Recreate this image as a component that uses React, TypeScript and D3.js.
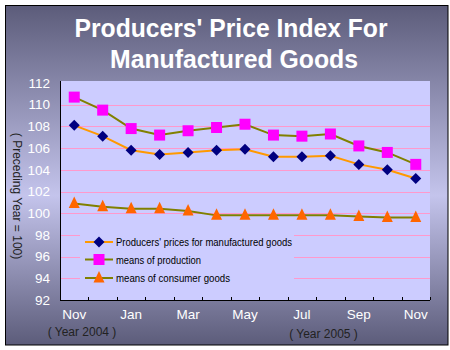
import React from "react";
import * as d3 from "d3";

const categories = ["Nov 2004","Dec 2004","Jan 2005","Feb 2005","Mar 2005","Apr 2005","May 2005","Jun 2005","Jul 2005","Aug 2005","Sep 2005","Oct 2005","Nov 2005"];
const tickLabels = ["Nov","","Jan","","Mar","","May","","Jul","","Sep","","Nov"];
const producersPrices = [108.1,107.1,105.8,105.4,105.6,105.8,105.9,105.2,105.2,105.3,104.5,104.0,103.2];
const meansOfProduction = [110.7,109.5,107.8,107.2,107.6,107.9,108.2,107.2,107.1,107.3,106.2,105.6,104.5];
const consumerGoods = [100.9,100.6,100.4,100.4,100.2,99.8,99.8,99.8,99.8,99.8,99.7,99.6,99.6];
const yTicks = [92,94,96,98,100,102,104,106,108,110,112];
const gridValues = [94,96,98,100,102,104,106,108,110];
const legendLabels = ["Producers' prices for manufactured goods","means of production","means of consumer goods"];

const W = 450, H = 350;
const plot = { left: 60, right: 430, top: 83, bottom: 300 };

export default function App() {
  const x = d3.scalePoint<number>().domain(categories.map((_, i) => i)).range([plot.left, plot.right]).padding(0.5);
  const band = d3.scaleBand<number>().domain(categories.map((_, i) => i)).range([plot.left, plot.right]);
  const y = d3.scaleLinear().domain([92, 112]).range([plot.bottom, plot.top]);
  const line = d3.line<number>().x((_, i) => x(i)!).y((d) => y(d));

  const diamond = "M0,-5.5L5.5,0L0,5.5L-5.5,0Z";
  const square = "M-5.5,-5.5H5.5V5.5H-5.5Z";
  const triangle = "M0,-7L5.5,4.5L-5.5,4.5Z";

  const tickBounds = d3.range(categories.length + 1).map((i) => plot.left + i * band.step());

  const series = [
    { data: producersPrices, lineColor: "#ff9900", markerColor: "#000080", shape: diamond },
    { data: meansOfProduction, lineColor: "#808000", markerColor: "#ff00ff", shape: square },
    { data: consumerGoods, lineColor: "#808000", markerColor: "#ff6600", shape: triangle },
  ];
  const legendY = [242, 259.5, 278];
  const legendText = [176, 85, 114];

  const font = "'Liberation Sans', Arial, sans-serif";

  return (
    <svg width={W} height={H} style={{ position: "absolute", left: 0, top: 0 }} fontFamily={font}>
      <defs>
        <linearGradient id="bg" x1="0" y1="0" x2="0" y2="1">
          <stop offset="0" stopColor="#5c5c7a" />
          <stop offset="0.56" stopColor="#c4c4ec" />
          <stop offset="1" stopColor="#5c5c7a" />
        </linearGradient>
      </defs>
      <rect x={0} y={0} width={W} height={H} fill="#ffffff" />
      <rect x={5.5} y={5.5} width={442.5} height={339.5} fill="url(#bg)" stroke="#000" strokeWidth={1} />
      <text x={231} y={37} textAnchor="middle" fill="#fff" fontSize={25} fontWeight="bold" textLength={313} lengthAdjust="spacingAndGlyphs">Producers' Price Index For</text>
      <text x={234} y={68} textAnchor="middle" fill="#fff" fontSize={25} fontWeight="bold" textLength={248} lengthAdjust="spacingAndGlyphs">Manufactured Goods</text>

      <rect x={plot.left} y={plot.top - 2} width={plot.right - plot.left} height={plot.bottom - plot.top + 2} fill="#ccccff" />
      {gridValues.map((v) => (
        <line key={v} x1={plot.left} x2={plot.right} y1={Math.round(y(v)) + 0.5} y2={Math.round(y(v)) + 0.5} stroke="#ff99cc" strokeWidth={1} />
      ))}
      <rect x={80} y={225} width={214} height={66} fill="#ccccff" />

      {series.map((s, k) => (
        <g key={k}>
          <path d={line(s.data) ?? ""} fill="none" stroke={s.lineColor} strokeWidth={2} />
          {s.data.map((v, i) => (
            <path key={i} d={s.shape} transform={`translate(${x(i)},${y(v)})`} fill={s.markerColor} />
          ))}
        </g>
      ))}

      {series.map((s, k) => (
        <g key={k}>
          <line x1={85} x2={113} y1={legendY[k]} y2={legendY[k]} stroke={s.lineColor} strokeWidth={2} />
          <path d={s.shape} transform={`translate(99,${legendY[k]})`} fill={s.markerColor} />
          <text x={116} y={legendY[k] + 4} fontSize={11} fill="#000" textLength={legendText[k]} lengthAdjust="spacingAndGlyphs">{legendLabels[k]}</text>
        </g>
      ))}

      <line x1={plot.left + 0.5} x2={plot.left + 0.5} y1={plot.top - 2} y2={plot.bottom} stroke="#000" />
      <line x1={plot.left} x2={plot.right} y1={plot.bottom + 0.5} y2={plot.bottom + 0.5} stroke="#000" />
      {tickBounds.map((tx, i) => (
        <line key={i} x1={Math.round(tx) + 0.5} x2={Math.round(tx) + 0.5} y1={plot.bottom} y2={plot.bottom - 3} stroke="#000" />
      ))}

      {yTicks.map((v) => (
        <text key={v} x={50} y={y(v)} dy="0.35em" textAnchor="end" fill="#fff" fontSize={13.5}>{v}</text>
      ))}
      {tickLabels.map((t, i) => t ? (
        <text key={i} x={x(i)} y={319} textAnchor="middle" fill="#fff" fontSize={13.5}>{t}</text>
      ) : null)}

      <text x={82} y={336} textAnchor="middle" fill="#222" fontSize={12}>( Year 2004 )</text>
      <text x={323.5} y={338} textAnchor="middle" fill="#222" fontSize={12}>( Year 2005 )</text>
      <text transform="translate(13,196) rotate(90)" textAnchor="middle" fill="#222" fontSize={12}>( Preceding Year = 100)</text>
    </svg>
  );
}
